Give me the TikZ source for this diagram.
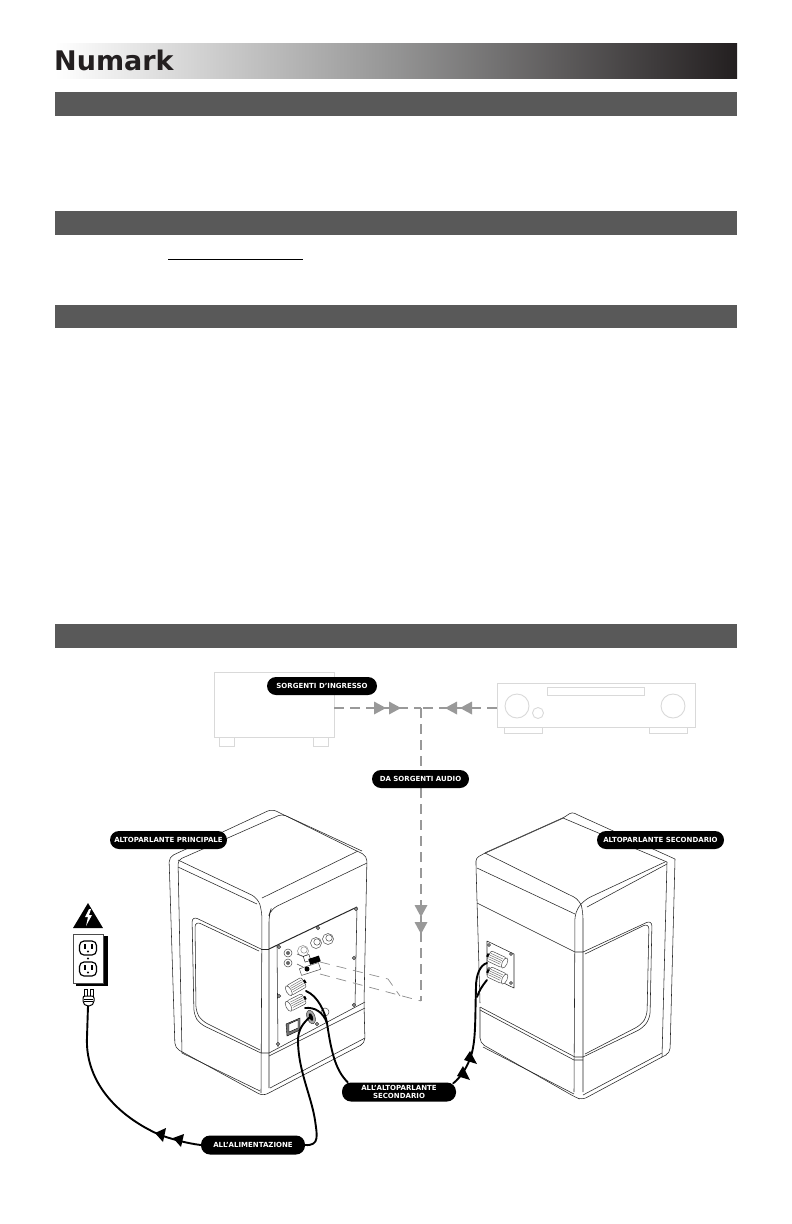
\documentclass[tikz,border=0pt]{standalone}
\usepackage{fontspec}
\setmainfont{DejaVu Sans}
\usetikzlibrary{arrows.meta,calc}
\definecolor{bandgray}{HTML}{595959}
\definecolor{bandblack}{HTML}{231F20}
\definecolor{srcgray}{HTML}{D9D9D9}
\definecolor{dashgray}{HTML}{999999}
\tikzset{
  x=1pt,y=-1pt,
  band/.style={fill=bandgray,draw=none},
  spk/.style={draw=black!85,line width=.55pt,line join=round},
  spkthick/.style={draw=black!85,line width=1pt},
  srcline/.style={draw=srcgray,line width=.9pt},
  tag/.style={fill=black,text=white,rounded corners=9pt,inner sep=0pt,align=center,
     font=\fontsize{7}{7.2}\selectfont\bfseries},
  audio/.style={draw=dashgray,line width=1.5pt,dash pattern=on 10pt off 6pt},
  audiothin/.style={draw=black!45,line width=.7pt,dash pattern=on 10pt off 7pt},
  cable/.style={draw=black,line width=1.9pt,line cap=round},
  screw/.style={draw=black!80,fill=black!45,line width=.4pt},
  partline/.style={draw=black!70,line width=.5pt,fill=white},
}
\newcommand{\bindpost}[3]{%
  \begin{scope}[shift={(#1,#2)},rotate=#3]
    \draw[partline,rounded corners=2pt] (-9,-5.5) rectangle (8,5.5);
    \draw[partline] (-9.5,0) ellipse (2.5 and 5.5);
    \foreach \yy in {-3,-1,1,3}{\draw[black!55,line width=.5pt] (-6,\yy) -- (7,\yy);}
    \fill[black] (8,-1.8) rectangle (10,1.8);
  \end{scope}}
\newcommand{\rcaring}[3]{%
  \draw[draw=black!#3,fill=white,line width=.5pt] (#1,#2) circle (5.5);
  \draw[draw=black!#3,fill=white,line width=.5pt] (#1+1,#2-1) circle (3.2);}
\begin{document}
\begin{tikzpicture}
\useasboundingbox (0,0) rectangle (792,1224);
\fill[white] (0,0) rectangle (792,1224);

% header
\path[left color=white,right color=bandblack,middle color=black!42] (55,43) rectangle (737,78);
\node[font=\fontsize{27}{27}\selectfont\bfseries,text=bandblack,inner sep=0pt,anchor=west] (logo) at (54,60) {Numark};

% section bands
\path[band] (55,92) rectangle (737,116);
\path[band] (55,211) rectangle (737,235);
\path[band] (55,305) rectangle (737,328);
\path[band] (55,624) rectangle (737,648);
\draw[black,line width=.9pt] (168,259) -- (303,259);

% sources
\node[srcline,minimum width=120pt,minimum height=65pt,inner sep=0,fill=white] (srcbox) at (274,704.5) {};
\draw[srcline] (219,737) rectangle (234,746);
\draw[srcline] (313,737) rectangle (328,746);
\node[srcline,minimum width=198pt,minimum height=44pt,inner sep=0,fill=white] (amp) at (596,705) {};
\draw[srcline] (547,687) rectangle (644,695);
\draw[srcline] (517,706) circle (12);
\draw[srcline] (538,713) circle (5.5);
\draw[srcline] (673,706) circle (12);
\draw[srcline] (504,727) rectangle (542,733);
\draw[srcline] (649,727) rectangle (687,733);

% main speaker
\draw[spk,rounded corners=5pt] (175,1048) -- (169,857) -- (272,809) -- (367,856) -- (364,1003) -- (365,1043) -- (263,1096) -- cycle;
\draw[spk,rounded corners=4pt] (182,1053) -- (178,860) -- (282,814) -- (362,851);
\draw[spk] (182,1053) -- (260,1091);
\draw[spk,rounded corners=7pt] (178,860) -- (258,898) -- (262,912) -- (261,1093);
\draw[spk] (178,867) -- (257,904);
\draw[spk,rounded corners=7pt] (358,851) -- (262,898);
\draw[spk,rounded corners=7pt] (367,863) -- (271,909) -- (269,915) -- (269,1088);
\draw[spk] (261,949) -- (269,949);
\draw[spk] (261,1053) -- (269,1053) -- (365,1002);
\draw[spk] (269,1056) -- (365,1008);
\draw[spk] (270,1088) -- (365,1038);
\draw[spk,rounded corners=6pt] (261,949) -- (192,916) -- (194,1015) -- (200,1024) -- (261,1053);
\draw[spk,rounded corners=6pt] (259,951) -- (195,921) -- (196,1012) -- (202,1021) -- (260,1050);
% main speaker back panel
\draw[spkthick] (269,949) -- (357,907);
\draw[spk] (277,945) -- (278,1047);
\draw[spk] (357,907) -- (355,1005);
\foreach \sx/\sy in {279/947,318/928,356/909,354/958,354/1005,279/996,278/1044,317/1024}{\draw[screw] (\sx,\sy) circle (1.8);}
\draw[partline] (288,953) circle (4); \fill[black!60] (288,953) circle (2);
\draw[partline] (288,963) circle (4); \fill[black!60] (288,963) circle (2);
\rcaring{303}{951}{45}\rcaring{316}{943}{70}\rcaring{328}{939}{70}
\draw[partline] (325,1012) circle (4);
% RCA plugs
\draw[black!70,line width=.6pt] (297,954) -- (305,957);
\draw[black!70,line width=.6pt] (297,964) -- (303,967);
\draw[draw=black,fill=white,rotate around={18:(308,958)}] (304,955) rectangle (310,961);
\fill[black,rotate around={18:(315,960)}] (309,957) rectangle (320,963);
\draw[partline,rotate around={18:(310,969)}] (300,965.5) rectangle (320,972.5);
\fill[black] (307,969) circle (2.5);
% binding posts
\bindpost{297}{986}{30}
\bindpost{297}{1002}{27}
% switch
\draw[draw=black,fill=black!55] (286,1024) -- (300,1018) -- (300,1030) -- (287,1036) -- cycle;
\draw[draw=black,fill=white] (289,1024) -- (298,1020) -- (298,1028) -- (289,1032) -- cycle;
% power socket
\draw[draw=black!80,fill=black!35,rotate around={20:(311,1017)}] (311,1017) ellipse (4 and 7);
\fill[black,rotate around={20:(311,1017)}] (311,1017) ellipse (1.8 and 4);

% secondary speaker
\draw[spk,rounded corners=3pt] (480,1003) -- (476,866) -- (476,858) -- (485,853) -- (563,818) -- (572,812) -- (578,815) -- (675,859);
\draw[spk,rounded corners=5pt] (675,859) -- (670,1053) -- (662,1057) -- (582,1100) -- (575,1097) -- (480,1043) -- (480,1007);
\draw[spkthick,black!70] (485,853) -- (563,818);
\draw[spk] (563,818) -- (667,862);
\draw[spk,rounded corners=7pt] (485,853) -- (580,900) -- (583,912) -- (583,1092);
\draw[spk,rounded corners=7pt] (665,862) -- (584,900) -- (575,912) -- (574,1092);
\draw[spk] (477,868) -- (575,914);
\draw[spk] (667,864) -- (587,907);
\draw[spk] (667,862) -- (662,1057);
\draw[spk] (477,903) -- (575,952) -- (583,952);
\draw[spk] (480,1007) -- (575,1057) -- (583,1057);
\draw[spk] (480,1010) -- (574,1060) -- (583,1060);
\draw[spk,rounded corners=6pt] (583,952) -- (652,920) -- (650,1018) -- (643,1028) -- (583,1057);
\draw[spk,rounded corners=6pt] (585,954) -- (649,923) -- (647,1016) -- (641,1025) -- (585,1054);
\draw[spk] (583,1095) -- (662,1053);
\draw[spk] (483,1047) -- (574,1094);
% terminal plate
\draw[spk,fill=white] (487,941) -- (514,954) -- (514,988) -- (487,975) -- cycle;
\foreach \sx/\sy in {489/945,511/954,489/969,511/983}{\draw[screw] (\sx,\sy) circle (1.6);}
\bindpost{496}{959}{155}
\bindpost{496}{975}{155}

% audio connectors
\coordinate (junction) at (421,708);
\coordinate (jack) at (421,1001);
\coordinate (rcaA) at (320,962);
\coordinate (rcaB) at (320,974);
\coordinate (bendA) at (388,979);
\coordinate (bendB) at (400,996);
\draw[audio] (srcbox.east |- junction) -- (junction);
\draw[audio] (amp.west |- junction) -- (junction);
\draw[audio] (junction) -- (jack);
\draw[audiothin] (rcaA) -- (bendA) -- (bendB);
\draw[audiothin] (rcaB) -- (jack);
\foreach \tipx in {386,401}{\fill[dashgray] (\tipx,708) -- (\tipx-12,701.5) -- (\tipx-12,714.5) -- cycle;}
\foreach \tipx in {445,460}{\fill[dashgray] (\tipx,708) -- (\tipx+12,701.5) -- (\tipx+12,714.5) -- cycle;}
\foreach \tipy in {917,934}{\fill[dashgray] (421,\tipy) -- (414.5,\tipy-12) -- (427.5,\tipy-12) -- cycle;}

% labels
\node[tag,minimum width=110pt,minimum height=18pt] (lblsrc) at (322,686) {SORGENTI D'INGRESSO};
\node[tag,minimum width=97pt,minimum height=18pt] (lblaudio) at (420.5,779) {DA SORGENTI AUDIO};
\node[tag,minimum width=117pt,minimum height=18pt] (lblmain) at (168.5,840) {ALTOPARLANTE PRINCIPALE};
\node[tag,minimum width=127pt,minimum height=18pt] (lblsec) at (660.5,840) {ALTOPARLANTE SECONDARIO};
\node[tag,minimum width=114pt,minimum height=19pt] (lblspk) at (399,1092) {ALL'ALTOPARLANTE\\SECONDARIO};
\node[tag,minimum width=104pt,minimum height=19pt] (lblpow) at (253,1145) {ALL'ALIMENTAZIONE};

% warning and outlet
\node[draw=black,fill=black,minimum width=31pt,minimum height=49pt,inner sep=0] (outshadow) at (91.5,960.5) {};
\node[draw=black!70,fill=white,line width=.5pt,minimum width=30pt,minimum height=49pt,inner sep=0] (outlet) at (88.5,958.5) {};
\fill[black] (88,903) -- (103,928) -- (73,928) -- cycle;
\fill[white] (89,909) -- (85,917) -- (88,917) -- (86,926) -- (92,915) -- (89,915) -- (91,909) -- cycle;
\foreach \oy in {948,969}{
  \draw[black,line width=1.2pt,fill=white,rounded corners=4.5pt] (79.5,\oy-7) rectangle (96.5,\oy+7);
  \fill[black] (84,\oy-4) rectangle (85.5,\oy+1);
  \fill[black] (91,\oy-4) rectangle (92.5,\oy+1);
  \fill[black] (88,\oy+3.5) circle (1.2);
}
\fill[black] (88,958.5) circle (1.2);
% plug
\draw[draw=black,fill=white,line width=.9pt] (84,989) rectangle (87,997);
\draw[draw=black,fill=white,line width=.9pt] (90,989) rectangle (93,997);
\draw[draw=black,fill=white,line width=1pt,rounded corners=2pt] (83,996) -- (94,996) -- (94,1003) -- (91,1006) -- (86,1006) -- (83,1003) -- cycle;
\draw[black,line width=.6pt] (84,999) -- (93,999) (84,1001.5) -- (93,1001.5);
\coordinate (plugend) at (88,1006);

% cables
\coordinate (wireA) at (306,991);
\coordinate (wireB) at (305,1008);
\coordinate (wireC) at (487,963);
\coordinate (wireD) at (487,980);
\coordinate (socket) at (310,1017);
\draw[cable] (lblpow.west) .. controls (185,1143) and (172,1139) .. (160,1135)
   .. controls (115,1115) and (85,1080) .. (87,1037) -- (plugend);
\fill[black] (155,1133) -- (166,1128) -- (163,1142) -- cycle;
\fill[black] (173,1138) -- (184,1134) -- (181,1147) -- cycle;
\draw[cable] (lblpow.east) .. controls (320,1146) and (317,1135) .. (315,1120)
   .. controls (311,1095) and (298,1070) .. (298,1040) .. controls (298,1030) and (303,1023) .. (socket);
\draw[cable] (wireA) .. controls (318,996) and (325,1012) .. (327,1023)
   .. controls (331,1050) and (335,1070) .. ($(lblspk.north west)+(6,0)$);
\draw[cable] (wireB) .. controls (315,1007) and (323,1012) .. (327,1023);
\draw[cable] ($(lblspk.north east)+(-3,1)$) .. controls (460,1078) and (467,1068) .. (471,1056)
   .. controls (476,1040) and (475,1020) .. (476,987) .. controls (476,975) and (480,965) .. (wireC);
\draw[cable] (477,997) .. controls (479,991) and (482,986) .. (wireD);
\fill[black] (470,1051) -- (477,1064) -- (464,1060) -- cycle;
\fill[black] (463,1066) -- (470,1080) -- (457,1076) -- cycle;
\end{tikzpicture}
\end{document}
